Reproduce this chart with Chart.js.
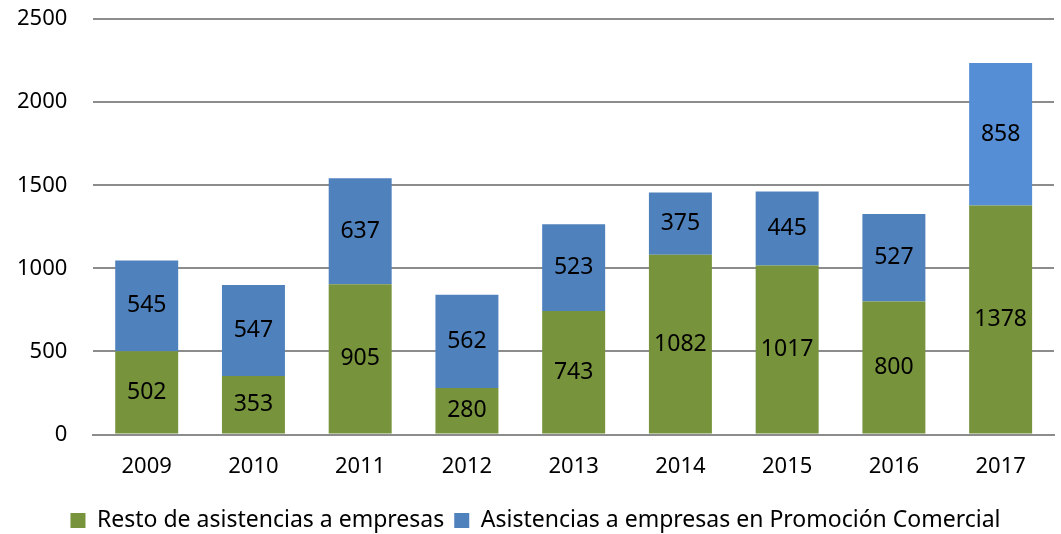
<!DOCTYPE html>
<html>
<head>
<meta charset="utf-8">
<script src="https://cdn.jsdelivr.net/npm/chart.js@4"></script>
<style>
  html, body { margin: 0; padding: 0; background: #fff; }
  #wrap { width: 1061px; height: 534px; }
</style>
</head>
<body>
<div id="wrap"><canvas id="myChart"></canvas></div>
<script>
const years = ['2009', '2010', '2011', '2012', '2013', '2014', '2015', '2016', '2017'];
const resto = [502, 353, 905, 280, 743, 1082, 1017, 800, 1378];
const promocion = [545, 547, 637, 562, 523, 375, 445, 527, 858];
const yTicks = [0, 500, 1000, 1500, 2000, 2500];

const green = '#77933C';
const blue = '#4F81BD';
const lightBlue = '#558ED5';

// write the value in the middle of each bar segment
const barLabels = {
  id: 'barLabels',
  afterDatasetsDraw(chart) {
    const ctx = chart.ctx;
    ctx.save();
    ctx.font = '23px "Noto Sans"';
    ctx.fillStyle = '#000';
    ctx.textAlign = 'center';
    ctx.textBaseline = 'middle';
    chart.data.datasets.forEach((ds, i) => {
      chart.getDatasetMeta(i).data.forEach((bar, j) => {
        const mid = (bar.y + bar.base) / 2;
        ctx.fillText(String(ds.data[j]), bar.x, mid);
      });
    });
    ctx.restore();
  }
};

const ctx = document.getElementById('myChart').getContext('2d');
const myChart = new Chart(ctx, {
  type: 'bar',
  data: {
    labels: years,
    datasets: [{
      label: 'Resto de asistencias a empresas',
      data: resto,
      backgroundColor: green,
      categoryPercentage: 0.59,
      barPercentage: 1
    }, {
      label: 'Asistencias a empresas en Promoción Comercial',
      data: promocion,
      backgroundColor: promocion.map((v, i) => i === promocion.length - 1 ? lightBlue : blue),
      categoryPercentage: 0.59,
      barPercentage: 1
    }]
  },
  options: {
    responsive: true,
    maintainAspectRatio: false,
    animation: false,
    layout: {
      padding: { left: 17, right: 7, top: 19, bottom: -8 }
    },
    scales: {
      x: {
        stacked: true,
        grid: { display: false, drawTicks: false },
        border: { display: true, color: '#8c8c8c', width: 2 },
        ticks: { color: '#000', font: { family: 'Noto Sans', size: 22 }, padding: 19 }
      },
      y: {
        stacked: true,
        min: 0,
        max: 2500,
        afterBuildTicks: (axis) => { axis.ticks = yTicks.map(v => ({ value: v })); },
        // invisible tick marks give the gap between labels and grid
        grid: { color: '#8c8c8c', lineWidth: 2, drawTicks: true, tickLength: 26, tickColor: 'rgba(0,0,0,0)' },
        border: { display: false },
        ticks: {
          color: '#000',
          font: { family: 'Noto Sans', size: 22 },
          padding: 0,
          callback: (v) => String(v)
        }
      }
    },
    plugins: {
      legend: {
        position: 'bottom',
        labels: {
          color: '#000',
          font: { family: 'Noto Sans', size: 23 },
          boxWidth: 15,
          boxHeight: 15,
          padding: 10,
          generateLabels: (chart) => chart.data.datasets.map((ds, i) => ({
            text: ds.label,
            fillStyle: i === 0 ? green : blue,
            strokeStyle: i === 0 ? green : blue,
            lineWidth: 0,
            datasetIndex: i
          }))
        }
      },
      tooltip: { enabled: false }
    }
  },
  plugins: [barLabels]
});
</script>
</body>
</html>
